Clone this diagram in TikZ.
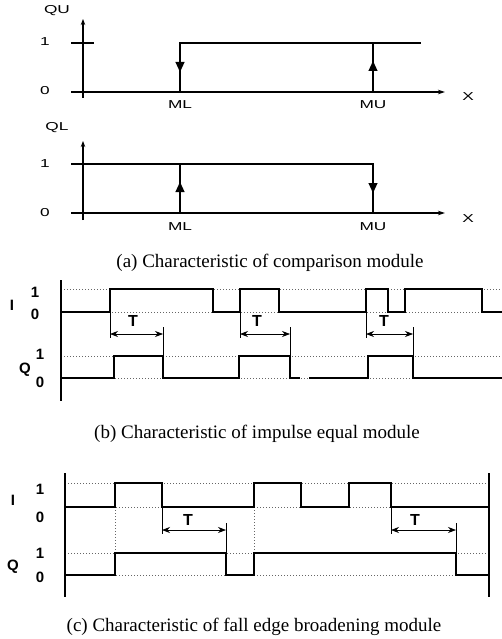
\documentclass[tikz,border=0pt]{standalone}
\usepackage{fontspec}
\usepackage{graphicx}
\setmainfont{Liberation Serif}
\setsansfont{Liberation Sans}
\usetikzlibrary{arrows.meta}
\newcommand{\wide}[1]{\scalebox{1.5}[1]{#1}}
\begin{document}
\begin{tikzpicture}[x=1pt,y=-1pt,
  axis/.style={line width=1.1pt},
  wave/.style={line width=2.4pt,line join=miter},
  thinline/.style={line width=0.7pt},
  dot/.style={gray!80!black,line width=0.6pt,dash pattern=on 1pt off 2pt},
  alab/.style={font=\sffamily\fontsize{11.5}{11.5}\selectfont,inner sep=0pt},
  blab/.style={font=\sffamily\bfseries\fontsize{15}{15}\selectfont,inner sep=0pt},
  tlab/.style={font=\sffamily\bfseries\fontsize{16}{16}\selectfont,inner sep=0pt},
  captext/.style={font=\fontsize{19}{19}\selectfont,inner sep=0pt},
  mid/.style={-{Triangle[width=9pt,length=10pt]}},
  targ/.style={thinline,{Stealth[length=8pt,width=6pt]}-{Stealth[length=8pt,width=6pt]}}]
\useasboundingbox (0,0) rectangle (502,639);
% ---------- (a) QU ----------
\node[alab] (qu) at (57,11) {\wide{QU}};
\node[alab] (qu1) at (45,42) {\wide{1}};
\node[alab] (qu0) at (45,91) {\wide{0}};
\node[alab] (qux) at (468,97) {\wide{X}};
\node[alab] (quml) at (180,105) {\wide{ML}};
\node[alab] (qumu) at (373,105) {\wide{MU}};
\draw[axis,-{Stealth[length=6pt,width=4.5pt]}] (83,98) -- (83,19);
\draw[axis] (71,43) -- (94,43);
\draw[axis,-{Stealth[length=7pt,width=4.5pt]}] (71,92) -- (445,92);
\draw[axis] (180,92) -- (180,43) -- (421,43);
\draw[axis] (373,43) -- (373,92);
\draw[axis,mid] (180,50) -- (180,72);
\draw[axis,mid] (373,85) -- (373,61);
% ---------- (a) QL ----------
\node[alab] (ql) at (57,128) {\wide{QL}};
\node[alab] (ql1) at (45,164) {\wide{1}};
\node[alab] (ql0) at (45,213) {\wide{0}};
\node[alab] (qlx) at (468,219) {\wide{X}};
\node[alab] (qlml) at (180,227) {\wide{ML}};
\node[alab] (qlmu) at (373,227) {\wide{MU}};
\draw[axis,-{Stealth[length=6pt,width=4.5pt]}] (83,220) -- (83,141);
\draw[axis] (71,164) -- (373,164) -- (373,213);
\draw[axis,-{Stealth[length=7pt,width=4.5pt]}] (71,213) -- (445,213);
\draw[axis] (180,164) -- (180,213);
\draw[axis,mid] (180,206) -- (180,182);
\draw[axis,mid] (373,171) -- (373,193);
\node[captext] (capa) at (270,263) {(a) Characteristic of comparison module};
% ---------- (b) ----------
\draw[dot] (61,289) -- (502,289);
\draw[dot] (61,312) -- (502,312);
\draw[dot] (61,356) -- (502,356);
\draw[dot] (61,378) -- (502,378);
\draw[axis] (61,280) -- (61,401);
\node[blab] (bI) at (12,305) {I};
\node[blab] (bI1) at (35,292) {1};
\node[blab] (bI0) at (35,314) {0};
\node[blab] (bQ) at (25,370) {Q};
\node[blab] (bQ1) at (40,354) {1};
\node[blab] (bQ0) at (40,382) {0};
\draw[wave] (61,312) -- (110,312) -- (110,289) -- (213,289) -- (213,312) -- (240,312) -- (240,289) -- (279,289) -- (279,312) -- (366,312) -- (366,289) -- (388,289) -- (388,312) -- (405,312) -- (405,289) -- (482,289) -- (482,312) -- (502,312);
\draw[wave] (61,378) -- (114,378) -- (114,356) -- (163,356) -- (163,378) -- (239,378) -- (239,356) -- (290,356) -- (290,378) -- (300,378);
\draw[wave] (309,378) -- (368,378) -- (368,356) -- (413,356) -- (413,378) -- (502,378);
\foreach \a/\b in {110/163,240/290,366/413}{
  \draw[thinline] (\a,312) -- (\a,338);
  \draw[thinline] (\b,327) -- (\b,356);
  \draw[targ] (\a,334) -- (\b,334);
}
\node[tlab] (bT1) at (133,321) {T};
\node[tlab] (bT2) at (257,321) {T};
\node[tlab] (bT3) at (384,321) {T};
\node[captext] (capb) at (257,434) {(b) Characteristic of impulse equal module};
% ---------- (c) ----------
\draw[dot] (65,483) -- (489,483);
\draw[dot] (65,507) -- (489,507);
\draw[dot] (65,553) -- (489,553);
\draw[dot] (65,575) -- (489,575);
\draw[dot] (115,507) -- (115,553);
\draw[dot] (254,507) -- (254,553);
\draw[axis] (65,473) -- (65,597);
\draw[axis] (489,473) -- (489,597);
\node[blab] (cI) at (13,500) {I};
\node[blab] (cI1) at (40,489) {1};
\node[blab] (cI0) at (40,517) {0};
\node[blab] (cQ) at (13,567) {Q};
\node[blab] (cQ1) at (40,553) {1};
\node[blab] (cQ0) at (40,577) {0};
\draw[wave] (65,507) -- (115,507) -- (115,483) -- (162,483) -- (162,507) -- (254,507) -- (254,483) -- (301,483) -- (301,507) -- (349,507) -- (349,483) -- (391,483) -- (391,507) -- (489,507);
\draw[wave] (65,575) -- (115,575) -- (115,553) -- (226,553) -- (226,575) -- (254,575) -- (254,553) -- (456,553) -- (456,575) -- (489,575);
\foreach \a/\b in {162/226,391/456}{
  \draw[thinline] (\a,507) -- (\a,534);
  \draw[thinline] (\b,523) -- (\b,553);
  \draw[targ] (\a,530) -- (\b,530);
}
\node[tlab] (cT1) at (188,520) {T};
\node[tlab] (cT2) at (415,520) {T};
\node[captext] (capc) at (254,627) {(c) Characteristic of fall edge broadening module};
\end{tikzpicture}
\end{document}
